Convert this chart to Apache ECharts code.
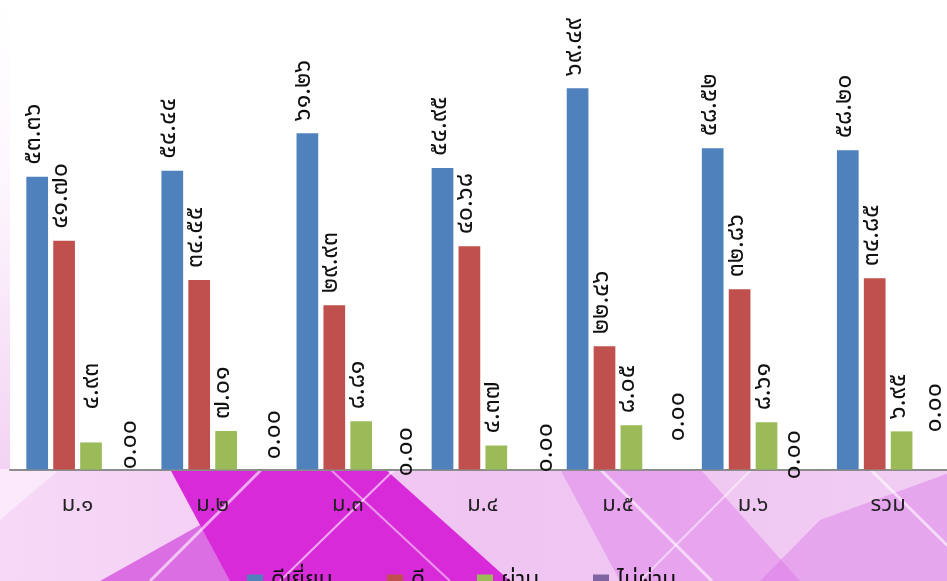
<!DOCTYPE html>
<html>
<head>
<meta charset="utf-8">
<script src="https://cdn.jsdelivr.net/npm/echarts@6/dist/echarts.min.js"></script>
<style>
  html, body { margin: 0; padding: 0; background: #ffffff; overflow: hidden; width: 947px; height: 581px; }
  #chart { width: 960px; height: 581px; }
</style>
</head>
<body>
<div id="chart"></div>
<script>
// ---- data ----
const categories = ['ม.๑', 'ม.๒', 'ม.๓', 'ม.๔', 'ม.๕', 'ม.๖', 'รวม'];
const seriesNames = ['ดีเยี่ยม', 'ดี', 'ผ่าน', 'ไม่ผ่าน'];
const excellent = [53.36, 54.44, 61.26, 54.95, 69.49, 58.52, 58.20];
const good      = [41.70, 34.55, 29.93, 40.68, 22.46, 32.86, 34.85];
const pass      = [4.93, 7.01, 8.81, 4.37, 8.05, 8.61, 6.95];
const fail      = [0.00, 0.00, 0.00, 0.00, 0.00, 0.00, 0.00];

// ---- style ----
const colors = ['#4F81BD', '#C0504D', '#9BBB59', '#8064A2'];
const FONT = "'Noto Sans Thai', 'Noto Sans', 'DejaVu Sans', sans-serif";
// manual label nudges (screen px, [dx, dy]) as placed in the original slide
const labelNudge = {
  2: { 0: [4, -21] },
  3: { 0: [15, 12], 1: [24, 2], 2: [21, 19], 3: [26, 15], 4: [23, -16], 5: [4, 22], 6: [9, -25] }
};

const thaiDigits = ['๐','๑','๒','๓','๔','๕','๖','๗','๘','๙'];
function toThai(v) {
  return v.toFixed(2).replace(/[0-9]/g, d => thaiDigits[+d]);
}

// label is rotated 90deg CCW: local x points up, local y points right
function rotOffset(dx, dy) { return [-dy, dx]; }

const allValues = [excellent, good, pass, fail];

function buildData(si) {
  return allValues[si].map((v, ci) => {
    const n = labelNudge[si] && labelNudge[si][ci];
    const item = { value: v };
    if (n) item.label = { offset: rotOffset(n[0] - 2, n[1]) };
    return item;
  });
}

const series = seriesNames.map((name, si) => ({
  name: name,
  type: 'bar',
  barWidth: 21.7,
  barGap: '24%',
  itemStyle: { color: colors[si] },
  data: buildData(si),
  label: {
    show: true,
    position: 'top',
    distance: 12,
    rotate: 90,
    align: 'left',
    verticalAlign: 'middle',
    offset: rotOffset(-2, 0),
    fontFamily: FONT,
    fontSize: 25,
    color: '#111',
    formatter: p => toThai(p.value)
  }
}));

const legendLefts = [242, 382, 472, 588];
const legends = seriesNames.map((name, i) => ({
  data: [name],
  left: legendLefts[i],
  top: 566,
  itemWidth: 16,
  itemHeight: 16,
  icon: 'rect',
  textStyle: { fontFamily: FONT, fontSize: 23, color: '#111', padding: [0, 0, 0, 3] }
}));

const chart = echarts.init(document.getElementById('chart'));
chart.setOption({
  animation: false,
  backgroundColor: '#ffffff',
  graphic: [
    { type: 'rect', z: -10, silent: true,
      shape: { x: 0, y: 0, width: 960, height: 581 },
      style: { fill: new echarts.graphic.LinearGradient(0, 0, 1, 0, [
        { offset: 0, color: '#f7d9f7' }, { offset: 0.5, color: '#efc4f1' }, { offset: 1, color: '#f1cdf3' }]) } },
    { type: 'polygon', z: -9, silent: true,
      shape: { points: [[100, 581], [200, 525], [300, 581]] },
      style: { fill: '#dc6ee4' } },
    { type: 'polygon', z: -9, silent: true,
      shape: { points: [[170, 469], [385, 469], [510, 581], [230, 581]] },
      style: { fill: '#d92ad9' } },
    { type: 'polygon', z: -9, silent: true,
      shape: { points: [[560, 469], [700, 469], [800, 581], [620, 581]] },
      style: { fill: 'rgba(221,120,232,0.45)' } },
    { type: 'polygon', z: -9, silent: true,
      shape: { points: [[820, 520], [960, 469], [960, 581], [760, 581]] },
      style: { fill: 'rgba(215,110,230,0.4)' } },
    { type: 'polygon', z: -9, silent: true,
      shape: { points: [[0, 469], [60, 469], [0, 520]] },
      style: { fill: 'rgba(255,255,255,0.45)' } },
    { type: 'line', z: -8, silent: true, shape: { x1: 150, y1: 581, x2: 262, y2: 469 }, style: { stroke: 'rgba(255,255,255,0.6)', lineWidth: 3 } },
    { type: 'line', z: -8, silent: true, shape: { x1: 280, y1: 581, x2: 395, y2: 469 }, style: { stroke: 'rgba(255,255,255,0.6)', lineWidth: 2 } },
    { type: 'line', z: -8, silent: true, shape: { x1: 330, y1: 469, x2: 450, y2: 581 }, style: { stroke: 'rgba(255,255,255,0.5)', lineWidth: 2 } },
    { type: 'line', z: -8, silent: true, shape: { x1: 600, y1: 469, x2: 712, y2: 581 }, style: { stroke: 'rgba(255,255,255,0.6)', lineWidth: 3 } },
    { type: 'line', z: -8, silent: true, shape: { x1: 640, y1: 581, x2: 752, y2: 469 }, style: { stroke: 'rgba(255,255,255,0.5)', lineWidth: 2 } },
    { type: 'line', z: -8, silent: true, shape: { x1: 870, y1: 469, x2: 960, y2: 558 }, style: { stroke: 'rgba(255,255,255,0.6)', lineWidth: 3 } },
    { type: 'rect', z: -7, silent: true,
      shape: { x: 0, y: 0, width: 10, height: 469 },
      style: { fill: new echarts.graphic.LinearGradient(0, 0, 0, 1, [
        { offset: 0, color: '#ffffff' }, { offset: 0.4, color: '#fdf6fd' }, { offset: 1, color: '#f3d3f3' }]) } },
    { type: 'rect', z: -6, silent: true,
      shape: { x: 10, y: 0, width: 950, height: 469.5 },
      style: { fill: '#ffffff' } }
  ],
  legend: legends,
  grid: { left: 10, right: 4.3, top: 30.5, bottom: 111.5, containLabel: false },
  xAxis: {
    type: 'category',
    data: categories,
    axisLine: { show: true, lineStyle: { color: '#8c8c8c', width: 2 } },
    axisTick: { show: false },
    axisLabel: { margin: 26, fontFamily: FONT, fontSize: 22, color: '#222' }
  },
  yAxis: {
    type: 'value',
    min: 0,
    max: 80,
    show: false,
    splitLine: { show: false }
  },
  series: series
});
</script>
</body>
</html>
